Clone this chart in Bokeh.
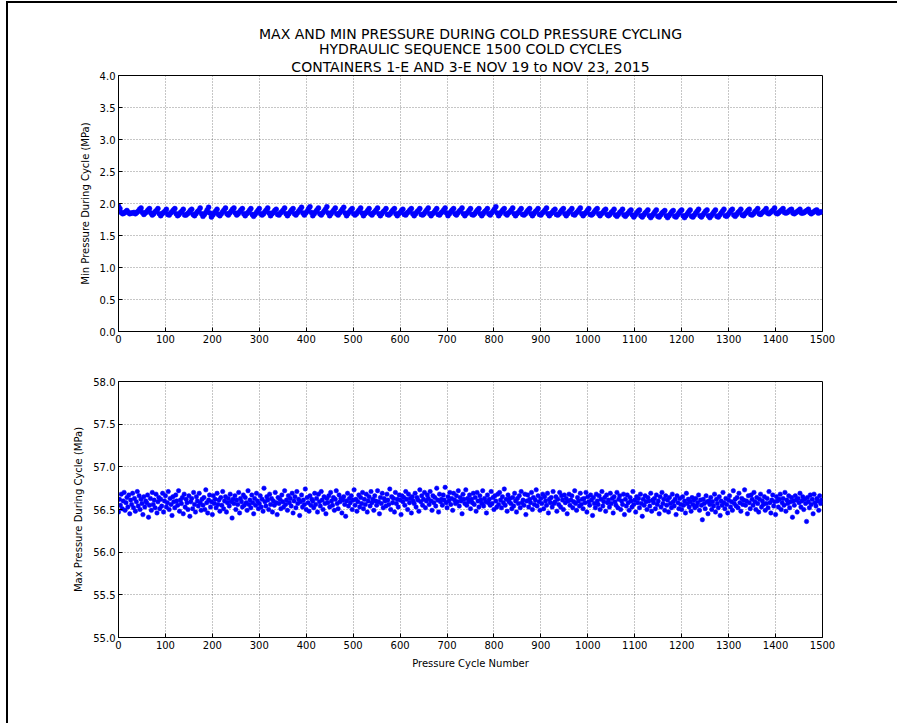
from bokeh.plotting import figure
from bokeh.layouts import column
from bokeh.models import Range1d, FixedTicker, NumeralTickFormatter, Title
from bokeh.embed import file_html
from bokeh.resources import INLINE

title_lines = [
    "MAX AND MIN PRESSURE DURING COLD PRESSURE CYCLING",
    "HYDRAULIC SEQUENCE 1500 COLD CYCLES",
    "CONTAINERS 1-E AND 3-E NOV 19 to NOV 23, 2015",
]
x_label = "Pressure Cycle Number"
min_label = "Min Pressure During Cycle (MPa)"
max_label = "Max Pressure During Cycle (MPa)"
x_ticks = [0, 100, 200, 300, 400, 500, 600, 700, 800, 900, 1000, 1100, 1200, 1300, 1400, 1500]
min_ticks = [0.0, 0.5, 1.0, 1.5, 2.0, 2.5, 3.0, 3.5, 4.0]
max_ticks = [55.0, 55.5, 56.0, 56.5, 57.0, 57.5, 58.0]

# min pressure, sampled every 3rd cycle (sawtooth band)
min_step = 3
min_pressure = [
    1.96, 1.92, 1.86, 1.84, 1.85, 1.87,
    1.89, 1.86, 1.84, 1.85, 1.85, 1.86,
    1.84, 1.86, 1.88, 1.91, 1.93, 1.86,
    1.83, 1.85, 1.87, 1.90, 1.92, 1.85,
    1.82, 1.84, 1.87, 1.89, 1.92, 1.84,
    1.81, 1.84, 1.86, 1.88, 1.91, 1.83,
    1.82, 1.85, 1.87, 1.90, 1.92, 1.84,
    1.81, 1.83, 1.86, 1.88, 1.91, 1.82,
    1.82, 1.84, 1.86, 1.89, 1.91, 1.83,
    1.81, 1.84, 1.87, 1.89, 1.93, 1.84,
    1.80, 1.83, 1.86, 1.90, 1.94, 1.85,
    1.79, 1.82, 1.85, 1.88, 1.91, 1.83,
    1.81, 1.84, 1.87, 1.90, 1.93, 1.84,
    1.82, 1.85, 1.88, 1.91, 1.93, 1.85,
    1.82, 1.84, 1.87, 1.90, 1.92, 1.84,
    1.81, 1.84, 1.86, 1.89, 1.92, 1.83,
    1.80, 1.83, 1.86, 1.89, 1.92, 1.84,
    1.82, 1.84, 1.87, 1.90, 1.93, 1.85,
    1.81, 1.84, 1.86, 1.89, 1.91, 1.83,
    1.82, 1.85, 1.87, 1.90, 1.93, 1.84,
    1.81, 1.84, 1.87, 1.90, 1.92, 1.84,
    1.82, 1.85, 1.88, 1.91, 1.94, 1.85,
    1.82, 1.85, 1.88, 1.92, 1.95, 1.86,
    1.81, 1.84, 1.87, 1.90, 1.93, 1.84,
    1.82, 1.85, 1.88, 1.91, 1.95, 1.85,
    1.81, 1.84, 1.87, 1.90, 1.93, 1.84,
    1.82, 1.85, 1.88, 1.91, 1.94, 1.85,
    1.81, 1.84, 1.87, 1.90, 1.92, 1.84,
    1.82, 1.84, 1.87, 1.90, 1.93, 1.85,
    1.81, 1.84, 1.86, 1.89, 1.92, 1.84,
    1.82, 1.85, 1.87, 1.90, 1.93, 1.84,
    1.81, 1.84, 1.87, 1.89, 1.92, 1.83,
    1.82, 1.84, 1.87, 1.90, 1.92, 1.84,
    1.81, 1.84, 1.86, 1.89, 1.91, 1.83,
    1.82, 1.85, 1.87, 1.90, 1.92, 1.84,
    1.81, 1.84, 1.87, 1.89, 1.92, 1.83,
    1.82, 1.84, 1.87, 1.90, 1.93, 1.84,
    1.81, 1.84, 1.86, 1.89, 1.92, 1.83,
    1.82, 1.85, 1.87, 1.90, 1.93, 1.85,
    1.81, 1.84, 1.87, 1.90, 1.92, 1.84,
    1.82, 1.85, 1.88, 1.90, 1.93, 1.84,
    1.81, 1.84, 1.86, 1.89, 1.92, 1.83,
    1.82, 1.84, 1.87, 1.90, 1.92, 1.84,
    1.81, 1.84, 1.87, 1.89, 1.92, 1.84,
    1.82, 1.85, 1.88, 1.91, 1.95, 1.85,
    1.81, 1.84, 1.87, 1.90, 1.92, 1.84,
    1.82, 1.85, 1.87, 1.90, 1.93, 1.84,
    1.81, 1.84, 1.86, 1.89, 1.92, 1.83,
    1.82, 1.84, 1.87, 1.90, 1.92, 1.84,
    1.81, 1.84, 1.87, 1.89, 1.92, 1.83,
    1.82, 1.85, 1.87, 1.90, 1.93, 1.84,
    1.81, 1.84, 1.86, 1.89, 1.91, 1.83,
    1.82, 1.84, 1.87, 1.90, 1.92, 1.84,
    1.81, 1.84, 1.87, 1.89, 1.92, 1.83,
    1.82, 1.85, 1.87, 1.90, 1.93, 1.84,
    1.81, 1.84, 1.86, 1.89, 1.92, 1.83,
    1.82, 1.84, 1.87, 1.90, 1.92, 1.84,
    1.81, 1.84, 1.86, 1.89, 1.91, 1.83,
    1.81, 1.83, 1.86, 1.88, 1.91, 1.82,
    1.80, 1.83, 1.86, 1.88, 1.91, 1.82,
    1.80, 1.83, 1.85, 1.88, 1.90, 1.82,
    1.79, 1.82, 1.85, 1.88, 1.90, 1.81,
    1.79, 1.82, 1.85, 1.87, 1.90, 1.81,
    1.78, 1.81, 1.84, 1.87, 1.90, 1.80,
    1.79, 1.82, 1.85, 1.87, 1.89, 1.81,
    1.78, 1.81, 1.84, 1.87, 1.89, 1.80,
    1.79, 1.82, 1.85, 1.88, 1.90, 1.81,
    1.78, 1.81, 1.84, 1.87, 1.90, 1.80,
    1.79, 1.82, 1.85, 1.88, 1.91, 1.81,
    1.79, 1.82, 1.85, 1.88, 1.90, 1.81,
    1.78, 1.81, 1.84, 1.87, 1.90, 1.80,
    1.79, 1.82, 1.85, 1.88, 1.91, 1.81,
    1.80, 1.83, 1.86, 1.89, 1.91, 1.82,
    1.80, 1.83, 1.86, 1.88, 1.91, 1.82,
    1.81, 1.84, 1.86, 1.89, 1.91, 1.83,
    1.82, 1.84, 1.87, 1.89, 1.92, 1.84,
    1.83, 1.85, 1.87, 1.89, 1.92, 1.85,
    1.84, 1.86, 1.88, 1.90, 1.93, 1.85,
    1.84, 1.86, 1.88, 1.90, 1.92, 1.86,
    1.85, 1.86, 1.88, 1.90, 1.91, 1.85,
    1.84, 1.86, 1.87, 1.89, 1.91, 1.85,
    1.85, 1.86, 1.88, 1.89, 1.91, 1.86,
    1.84, 1.86, 1.87, 1.89, 1.90, 1.85,
    1.86, 1.87,
]

# max pressure, sampled every 2nd cycle (noisy band)
max_step = 2
max_pressure = [
    56.47, 56.62, 56.55, 56.68, 56.51, 56.60, 56.70, 56.49, 56.58, 56.64, 56.53, 56.67, 56.45, 56.61, 56.56,
    56.69, 56.52, 56.63, 56.48, 56.59, 56.71, 56.54, 56.66, 56.50, 56.62, 56.57, 56.44, 56.65, 56.53, 56.60,
    56.58, 56.67, 56.41, 56.55, 56.63, 56.49, 56.70, 56.56, 56.61, 56.52, 56.68, 56.46, 56.59, 56.64, 56.51,
    56.62, 56.54, 56.69, 56.47, 56.60, 56.66, 56.53, 56.58, 56.71, 56.50, 56.63, 56.56, 56.43, 56.65, 56.59,
    56.52, 56.67, 56.60, 56.55, 56.72, 56.48, 56.61, 56.57, 56.64, 56.45, 56.68, 56.53, 56.62, 56.58, 56.50,
    56.66, 56.42, 56.59, 56.63, 56.51, 56.70, 56.56, 56.47, 56.65, 56.60, 56.54, 56.69, 56.58, 56.49, 56.62,
    56.55, 56.64, 56.50, 56.73, 56.58, 56.46, 56.61, 56.67, 56.53, 56.59, 56.44, 56.66, 56.57, 56.62, 56.52,
    56.69, 56.56, 56.61, 56.48, 56.64, 56.55, 56.71, 56.51, 56.60, 56.65, 56.47, 56.58, 56.63, 56.54, 56.68,
    56.59, 56.40, 56.62, 56.57, 56.66, 56.50, 56.61, 56.56, 56.70, 56.46, 56.63, 56.59, 56.53, 56.67, 56.55,
    56.64, 56.58, 56.49, 56.72, 56.56, 56.61, 56.52, 56.67, 56.58, 56.45, 56.63, 56.55, 56.69, 56.60, 56.51,
    56.57, 56.66, 56.53, 56.62, 56.48, 56.75, 56.59, 56.54, 56.65, 56.61, 56.50, 56.68, 56.56, 56.63, 56.47,
    56.60, 56.55, 56.70, 56.58, 56.44, 56.64, 56.57, 56.62, 56.51, 56.67, 56.59, 56.53, 56.72, 56.56, 56.61,
    56.49, 56.66, 56.58, 56.63, 56.54, 56.69, 56.46, 56.60, 56.65, 56.52, 56.71, 56.57, 56.62, 56.43, 56.59,
    56.67, 56.53, 56.61, 56.56, 56.74, 56.50, 56.64, 56.58, 56.48, 56.66, 56.55, 56.62, 56.60, 56.52, 56.69,
    56.56, 56.63, 56.47, 56.68, 56.59, 56.54, 56.71, 56.61, 56.50, 56.65, 56.57, 56.45, 56.63, 56.58, 56.66,
    56.53, 56.70, 56.60, 56.55, 56.64, 56.49, 56.62, 56.72, 56.57, 56.51, 56.67, 56.59, 56.63, 56.46, 56.61,
    56.65, 56.56, 56.42, 56.60, 56.69, 56.54, 56.63, 56.58, 56.66, 56.50, 56.61, 56.73, 56.55, 56.62, 56.48,
    56.59, 56.67, 56.53, 56.64, 56.57, 56.70, 56.51, 56.62, 56.56, 56.68, 56.47, 56.60, 56.65, 56.54, 56.71,
    56.58, 56.62, 56.49, 56.66, 56.60, 56.55, 56.72, 56.59, 56.45, 56.64, 56.57, 56.69, 56.52, 56.63, 56.60,
    56.54, 56.68, 56.61, 56.56, 56.74, 56.50, 56.65, 56.58, 56.63, 56.47, 56.70, 56.57, 56.62, 56.53, 56.67,
    56.61, 56.44, 56.66, 56.59, 56.64, 56.55, 56.71, 56.62, 56.50, 56.68, 56.58, 56.63, 56.46, 56.65, 56.60,
    56.57, 56.69, 56.53, 56.64, 56.61, 56.48, 56.73, 56.59, 56.66, 56.55, 56.62, 56.70, 56.52, 56.60, 56.67,
    56.63, 56.56, 56.71, 56.60, 56.49, 56.66, 56.58, 56.64, 56.54, 56.75, 56.61, 56.47, 56.68, 56.59, 56.62,
    56.55, 56.67, 56.61, 56.76, 56.58, 56.52, 56.65, 56.60, 56.70, 56.56, 56.63, 56.49, 56.69, 56.61, 56.57,
    56.66, 56.59, 56.72, 56.54, 56.64, 56.60, 56.45, 56.68, 56.62, 56.57, 56.73, 56.55, 56.63, 56.59, 56.67,
    56.51, 56.62, 56.58, 56.69, 56.56, 56.64, 56.48, 56.70, 56.60, 56.53, 56.66, 56.61, 56.57, 56.72, 56.54,
    56.63, 56.59, 56.46, 56.67, 56.58, 56.62, 56.55, 56.71, 56.57, 56.64, 56.50, 56.66, 56.60, 56.53, 56.68,
    56.56, 56.70, 56.61, 56.52, 56.65, 56.58, 56.74, 56.55, 56.62, 56.48, 56.67, 56.59, 56.63, 56.57, 56.51,
    56.64, 56.54, 56.69, 56.60, 56.47, 56.63, 56.57, 56.66, 56.52, 56.71, 56.58, 56.61, 56.55, 56.68, 56.44,
    56.60, 56.67, 56.53, 56.62, 56.58, 56.70, 56.50, 56.64, 56.56, 56.61, 56.73, 56.54, 56.66, 56.59, 56.49,
    56.63, 56.57, 56.68, 56.51, 56.65, 56.60, 56.55, 56.69, 56.46, 56.62, 56.58, 56.64, 56.53, 56.71, 56.57,
    56.59, 56.65, 56.48, 56.62, 56.56, 56.70, 56.53, 56.66, 56.61, 56.50, 56.67, 56.58, 56.63, 56.45, 56.60,
    56.68, 56.55, 56.61, 56.66, 56.52, 56.59, 56.72, 56.57, 56.49, 56.64, 56.60, 56.54, 56.69, 56.56, 56.62,
    56.51, 56.63, 56.58, 56.70, 56.47, 56.65, 56.59, 56.55, 56.67, 56.61, 56.43, 56.64, 56.57, 56.52, 56.68,
    56.60, 56.56, 56.66, 56.50, 56.62, 56.71, 56.54, 56.59, 56.64, 56.48, 56.67, 56.58, 56.61, 56.53, 56.69,
    56.57, 56.63, 56.46, 56.65, 56.59, 56.55, 56.70, 56.52, 56.62, 56.66, 56.50, 56.60, 56.56, 56.68, 56.44,
    56.62, 56.54, 56.67, 56.58, 56.49, 56.64, 56.60, 56.53, 56.71, 56.56, 56.61, 56.47, 56.65, 56.58, 56.63,
    56.52, 56.68, 56.57, 56.42, 56.62, 56.55, 56.66, 56.59, 56.50, 56.64, 56.60, 56.54, 56.69, 56.48, 56.61,
    56.58, 56.63, 56.51, 56.67, 56.56, 56.60, 56.45, 56.65, 56.53, 56.70, 56.57, 56.62, 56.49, 56.66, 56.55,
    56.61, 56.47, 56.64, 56.57, 56.52, 56.68, 56.59, 56.54, 56.62, 56.44, 56.66, 56.58, 56.51, 56.63, 56.56,
    56.50, 56.65, 56.55, 56.60, 56.46, 56.69, 56.57, 56.62, 56.53, 56.59, 56.48, 56.64, 56.56, 56.61, 56.52,
    56.63, 56.54, 56.58, 56.67, 56.49, 56.61, 56.55, 56.38, 56.62, 56.57, 56.51, 56.66, 56.59, 56.45, 56.60,
    56.56, 56.64, 56.50, 56.59, 56.54, 56.68, 56.47, 56.62, 56.57, 56.52, 56.65, 56.43, 56.60, 56.55, 56.70,
    56.58, 56.51, 56.63, 56.56, 56.46, 56.61, 56.66, 56.53, 56.59, 56.49, 56.72, 56.57, 56.62, 56.54, 56.64,
    56.52, 56.69, 56.58, 56.48, 56.63, 56.56, 56.61, 56.73, 56.55, 56.60, 56.45, 56.66, 56.58, 56.51, 56.67,
    56.62, 56.55, 56.70, 56.59, 56.50, 56.64, 56.57, 56.47, 56.62, 56.68, 56.53, 56.60, 56.56, 56.65, 56.49,
    56.57, 56.63, 56.52, 56.71, 56.58, 56.46, 56.61, 56.67, 56.54, 56.59, 56.44, 56.65, 56.60, 56.53, 56.62,
    56.68, 56.50, 56.58, 56.63, 56.55, 56.70, 56.48, 56.61, 56.57, 56.66, 56.52, 56.59, 56.64, 56.41, 56.60,
    56.55, 56.66, 56.61, 56.47, 56.63, 56.58, 56.69, 56.53, 56.60, 56.65, 56.50, 56.62, 56.57, 56.36, 56.64,
    56.59, 56.52, 56.67, 56.56, 56.62, 56.45, 56.68, 56.58, 56.54, 56.63, 56.60, 56.49, 56.66, 56.57, 56.61,
]

min_cycle = [i * min_step for i in range(len(min_pressure))]
max_cycle = [i * max_step for i in range(len(max_pressure))]

FONT = "DejaVu Sans"
BLUE = "#0000ff"


def make_fig(y0, y1, yticks, ylabel, top_border, bottom_border, xlabel=None):
    p = figure(
        frame_width=704, frame_height=256,
        x_range=Range1d(0, 1500), y_range=Range1d(y0, y1),
        output_backend="svg", toolbar_location=None,
        min_border_left=110, min_border_right=75,
        min_border_top=top_border, min_border_bottom=bottom_border,
        background_fill_color="white", border_fill_color="white",
    )
    p.outline_line_color = "black"
    p.outline_line_width = 1
    p.xaxis.ticker = FixedTicker(ticks=x_ticks)
    p.yaxis.ticker = FixedTicker(ticks=yticks)
    p.xaxis.formatter = NumeralTickFormatter(format="0")
    p.yaxis.formatter = NumeralTickFormatter(format="0.0")
    for ax in (p.xaxis[0], p.yaxis[0]):
        ax.axis_line_color = "black"
        ax.major_tick_in = 4
        ax.major_tick_out = 0
        ax.major_tick_line_color = "black"
        ax.minor_tick_line_color = None
        ax.major_label_text_font = FONT
        ax.major_label_text_font_size = "10px"
        ax.major_label_text_color = "black"
        ax.major_label_standoff = 3
        ax.axis_label_text_font = FONT
        ax.axis_label_text_font_size = "10px"
        ax.axis_label_text_font_style = "normal"
        ax.axis_label_text_color = "black"
        ax.axis_label_standoff = 6
    p.yaxis.axis_label = ylabel
    if xlabel:
        p.xaxis.axis_label = xlabel
    p.xgrid.grid_line_color = "#000000"
    p.ygrid.grid_line_color = "#000000"
    p.xgrid.grid_line_alpha = 0.45
    p.ygrid.grid_line_alpha = 0.45
    p.xgrid.grid_line_dash = "1 2"
    p.ygrid.grid_line_dash = "1 2"
    return p


p1 = make_fig(0, 4, min_ticks, min_label, 72, 25)
for i, line in enumerate(reversed(title_lines)):
    p1.add_layout(Title(text=line, align="center", text_font=FONT, text_font_size="14px",
                        text_font_style="normal", text_color="black",
                        standoff=2 if i == 0 else -3), "above")
p1.scatter(min_cycle, min_pressure, size=5, fill_color=BLUE, line_color=BLUE, line_width=0.5)

p2 = make_fig(55, 58, max_ticks, max_label, 25, 86, xlabel=x_label)
p2.scatter(max_cycle, max_pressure, size=4.5, fill_color=BLUE, line_color=BLUE, line_width=0.5)

layout = column(p1, p2, styles={"border-left": "2px solid black", "border-top": "2px solid black",
                                "margin-left": "6px", "margin-top": "1px"})

open("out.html", "w").write(file_html(layout, INLINE))
